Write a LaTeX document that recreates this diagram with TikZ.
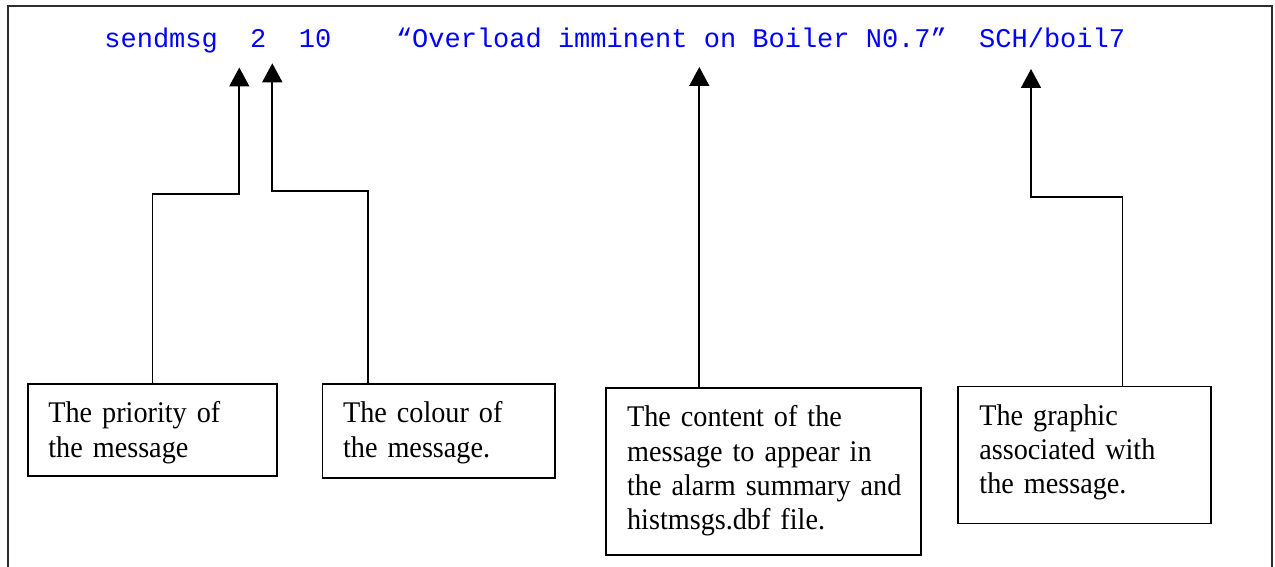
\documentclass[tikz,border=0pt]{standalone}
\usepackage{fontspec}
\setmainfont{Liberation Serif}[FakeStretch=0.94, WordSpace=0.85]
\newfontfamily\codefont{Liberation Mono}
\usetikzlibrary{arrows.meta,calc}
\definecolor{codeblue}{RGB}{0,0,255}
\definecolor{framegray}{RGB}{45,45,45}
\tikzset{
  callout/.style={draw=black, line width=0.85pt, inner sep=0pt, anchor=north west},
  calltext/.style={inner sep=0pt, anchor=base west, text width=200pt, align=left,
    font=\fontsize{15pt}{17.2pt}\selectfont},
  pointer/.style={line width=0.85pt, -{Triangle[width=10pt,length=9.5pt]}},
  cmdline/.style={inner sep=0pt, anchor=base west, text=codeblue,
    font=\codefont\fontsize{13.5pt}{16pt}\selectfont}
}
\begin{document}
\begin{tikzpicture}[x=0.5pt,y=-0.5pt]
\useasboundingbox (0,0) rectangle (1275,567);

% outer frame, open at the bottom edge
\draw[framegray, line width=1.1pt] (8,567) -- (8,6) -- (1272,6) -- (1272,567);

% the command line
\node[cmdline] (cmd) at (104,47.3)
  {sendmsg~~2~~10~~~~“Overload imminent on Boiler N0.7”~~SCH/boil7};

% explanation boxes
\node[callout, minimum width=124.5pt, minimum height=46pt]  (prio)  at (27,383.3)  {};
\node[callout, minimum width=116.2pt, minimum height=47pt]  (col)   at (321.7,383.3) {};
\node[callout, minimum width=157.5pt, minimum height=83.5pt] (cont) at (605,387.3) {};
\node[callout, minimum width=126.5pt, minimum height=68.5pt] (graph) at (957,385.7) {};

\node[calltext] (prio-txt)  at ($(prio.north west)+(21,39.4)$)  {The priority of\\the message};
\node[calltext] (col-txt)   at ($(col.north west)+(21,39.4)$)   {The colour of\\the message.};
\node[calltext] (cont-txt)  at ($(cont.north west)+(21.7,39.4)$) {The content of the\\message to appear in\\the alarm summary and\\histmsgs.dbf file.};
\node[calltext] (graph-txt) at ($(graph.north west)+(22,39.4)$) {The graphic\\associated with\\the message.};

% arrow tips under the command fields, and the knees of the leaders
\coordinate (tip-prio)   at (239.3,67.5);
\coordinate (knee-prio)  at (239.3,194.3);
\coordinate (tip-col)    at (272.3,63.3);
\coordinate (knee-col)   at (272.3,191);
\coordinate (tip-cont)   at (699.3,67);
\coordinate (tip-graph)  at (1031,69);
\coordinate (knee-graph) at (1031,196.7);

% leaders from each box up to its field
\draw[pointer] (prio.north) |- (knee-prio) -- (tip-prio);
\draw[pointer] ($(col.north west)+(46.6,0)$) |- (knee-col) -- (tip-col);
\draw[pointer] ($(cont.north west)+(94.3,0)$) -- (tip-cont);
\draw[pointer] ($(graph.north west)+(165.5,0)$) |- (knee-graph) -- (tip-graph);
\end{tikzpicture}
\end{document}
